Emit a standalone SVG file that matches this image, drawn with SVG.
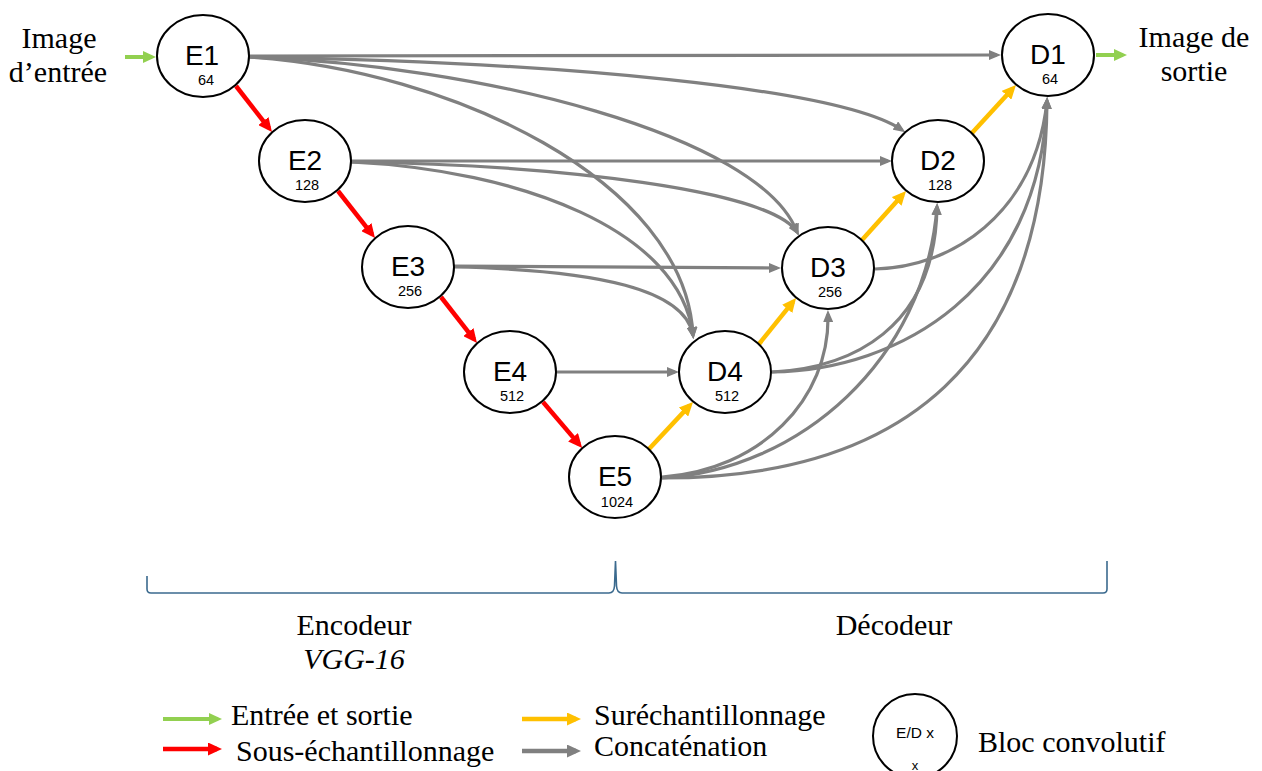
<svg xmlns="http://www.w3.org/2000/svg" width="1262" height="771" viewBox="0 0 1262 771">
<style>
.node ellipse{fill:#fff;stroke:#000;stroke-width:2}
.lbl{font-family:"Liberation Sans",Arial,sans-serif;font-size:28px;fill:#000;text-anchor:middle}
.num{font-family:"Liberation Sans",Arial,sans-serif;font-size:14.5px;fill:#000;text-anchor:middle}
.serif{font-family:"Liberation Serif","Times New Roman",serif;font-size:30px;fill:#000}
.mid{text-anchor:middle}
.gray{fill:none;stroke:#808080;stroke-width:3.2;marker-end:url(#mg)}
.red{fill:none;stroke:#ff0000;stroke-width:4.5;marker-end:url(#mr)}
.yel{fill:none;stroke:#ffc000;stroke-width:4.5;marker-end:url(#my)}
.grn{fill:none;stroke:#92d050;stroke-width:4;marker-end:url(#mgr)}
</style>
<defs>
<marker id="mg" markerUnits="userSpaceOnUse" viewBox="0 0 12 10" markerWidth="12" markerHeight="10" refX="8" refY="5" orient="auto"><path d="M0,0 L12,5 L0,10 z" fill="#808080"/></marker>
<marker id="mr" markerUnits="userSpaceOnUse" viewBox="0 0 14 13" markerWidth="14" markerHeight="13" refX="9" refY="6.5" orient="auto"><path d="M0,0 L14,6.5 L0,13 z" fill="#ff0000"/></marker>
<marker id="my" markerUnits="userSpaceOnUse" viewBox="0 0 14 13" markerWidth="14" markerHeight="13" refX="9" refY="6.5" orient="auto"><path d="M0,0 L14,6.5 L0,13 z" fill="#ffc000"/></marker>
<marker id="mgr" markerUnits="userSpaceOnUse" viewBox="0 0 13 12" markerWidth="13" markerHeight="12" refX="9" refY="6" orient="auto"><path d="M0,0 L13,6 L0,12 z" fill="#92d050"/></marker>
<marker id="mlg" markerUnits="userSpaceOnUse" viewBox="0 0 14 13" markerWidth="14" markerHeight="13" refX="9" refY="6.5" orient="auto"><path d="M0,0 L14,6.5 L0,13 z" fill="#808080"/></marker>
</defs>

<g id="connectors">
<path class="grn" d="M125,57 L152,57"/>
<path class="grn" d="M1096,55 L1123,55"/>
<path class="red" d="M236,86 L268.9,128.1"/>
<path class="red" d="M338,191 L371.9,234.1"/>
<path class="red" d="M441,297 L473.9,339.1"/>
<path class="red" d="M543,402 L578.9,444.1"/>
<path class="yel" d="M649,449 L689.6,405.6"/>
<path class="yel" d="M759,344 L792.9,301.9"/>
<path class="yel" d="M862,240 L902.7,194.7"/>
<path class="yel" d="M972,133 L1012.6,88.7"/>
<path class="gray" d="M249,56 L997,55"/>
<path class="gray" d="M351,161 L888,161"/>
<path class="gray" d="M454,266 L777,268"/>
<path class="gray" d="M557,372 L675,372"/>
<path class="gray" d="M249,57 C560,62 840,88 902,130"/>
<path class="gray" d="M249,57 C480,65 760,135 797,232"/>
<path class="gray" d="M249,57 C450,70 685,180 693,335"/>
<path class="gray" d="M351,162 C560,165 770,190 797,232"/>
<path class="gray" d="M351,162 C520,170 680,230 693,335"/>
<path class="gray" d="M454,267 C600,270 685,290 693,335"/>
<path class="gray" d="M662,477 C760,470 830,400 828,314"/>
<path class="gray" d="M662,478 C800,470 925,360 937,207"/>
<path class="gray" d="M772,372 C850,368 935,330 937,207"/>
<path class="gray" d="M875,269 C950,268 1035,215 1047,101"/>
<path class="gray" d="M772,372 C900,370 1040,290 1047,101"/>
<path class="gray" d="M662,478 C905,478 1045,360 1047,101"/>
</g>

<g id="E1" class="node"><ellipse cx="203" cy="56" rx="46" ry="41"/><text class="lbl" x="202" y="65">E1</text><text class="num" x="206" y="85">64</text></g>
<g id="E2" class="node"><ellipse cx="305" cy="161" rx="46" ry="41"/><text class="lbl" x="305" y="170">E2</text><text class="num" x="307" y="190">128</text></g>
<g id="E3" class="node"><ellipse cx="408" cy="267" rx="46" ry="41"/><text class="lbl" x="408" y="276">E3</text><text class="num" x="410" y="296">256</text></g>
<g id="E4" class="node"><ellipse cx="510" cy="372" rx="46" ry="41"/><text class="lbl" x="510" y="381">E4</text><text class="num" x="512" y="401">512</text></g>
<g id="E5" class="node"><ellipse cx="615" cy="477" rx="46" ry="41"/><text class="lbl" x="615" y="486">E5</text><text class="num" x="617" y="507">1024</text></g>
<g id="D4" class="node"><ellipse cx="725" cy="372" rx="46" ry="41"/><text class="lbl" x="725" y="381">D4</text><text class="num" x="727" y="401">512</text></g>
<g id="D3" class="node"><ellipse cx="828" cy="268" rx="46" ry="41"/><text class="lbl" x="828" y="277">D3</text><text class="num" x="830" y="297">256</text></g>
<g id="D2" class="node"><ellipse cx="938" cy="161" rx="46" ry="41"/><text class="lbl" x="938" y="170">D2</text><text class="num" x="940" y="190">128</text></g>
<g id="D1" class="node"><ellipse cx="1048" cy="55" rx="46" ry="41"/><text class="lbl" x="1048" y="64">D1</text><text class="num" x="1050" y="84">64</text></g>

<g id="io-labels">
<text class="serif mid" x="59" y="48">Image</text>
<text class="serif mid" x="58" y="82">d’entrée</text>
<text class="serif mid" x="1194" y="47">Image de</text>
<text class="serif mid" x="1194" y="81">sortie</text>
</g>

<g id="brace">
<path d="M147,576 L147,589 Q147,593 151,593 L609,593 Q614,593 614.5,586 L615.5,561 L616.5,586 Q617,593 622,593 L1103,593 Q1107,593 1107,589 L1107,561" fill="none" stroke="#3b6a8e" stroke-width="1.6"/>
<text class="serif mid" x="354" y="635">Encodeur</text>
<text class="serif mid" x="354" y="669" font-style="italic">VGG-16</text>
<text class="serif mid" x="894" y="635">Décodeur</text>
</g>

<g id="legend">
<path class="grn" d="M163,719 L218,719"/>
<text class="serif" x="231" y="725">Entrée et sortie</text>
<path class="red" d="M163,749 L217,749"/>
<text class="serif" x="236" y="761">Sous-échantillonnage</text>
<path class="yel" d="M522,719 L576,719"/>
<text class="serif" x="594" y="725">Suréchantillonnage</text>
<path d="M522,751 L576,751" fill="none" stroke="#808080" stroke-width="4.5" marker-end="url(#mlg)"/>
<text class="serif" x="594" y="756">Concaténation</text>
<ellipse cx="915" cy="736" rx="42" ry="42" fill="#fff" stroke="#000" stroke-width="2"/>
<text x="915" y="738" font-family="'Liberation Sans',Arial,sans-serif" font-size="15.5" text-anchor="middle">E/D x</text>
<text x="915" y="770" font-family="'Liberation Sans',Arial,sans-serif" font-size="13" text-anchor="middle">x</text>
<text class="serif" x="978" y="752">Bloc convolutif</text>
</g>
</svg>
